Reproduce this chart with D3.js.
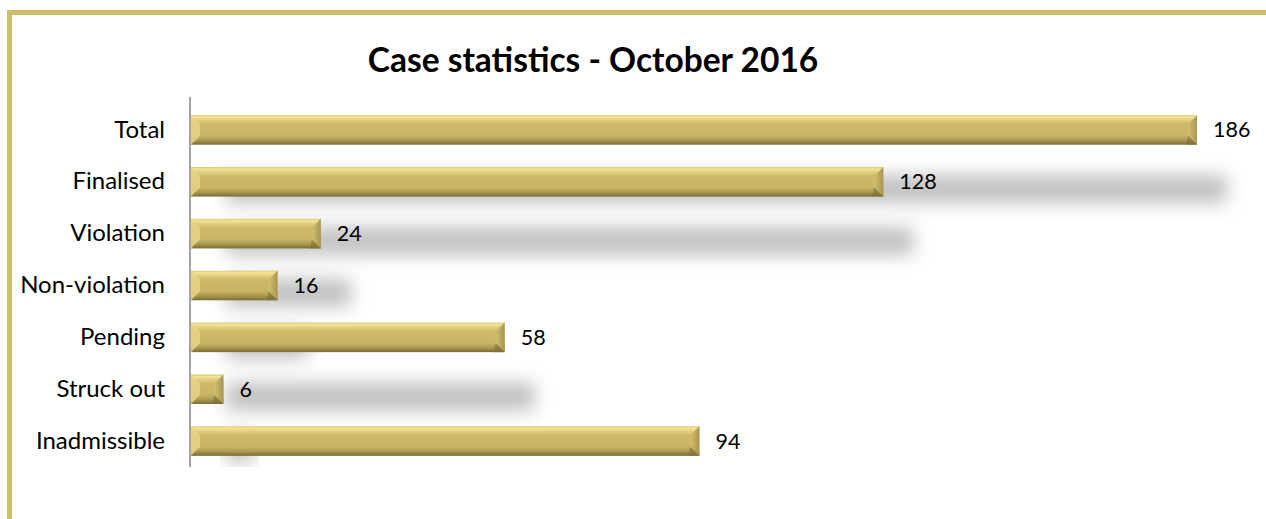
<!DOCTYPE html>
<html lang="en">
<head>
<meta charset="UTF-8">
<title>Case statistics - October 2016</title>
<style>
    body { margin: 0; background: #fff; }
    svg { display: block; font-family: Lato, "Open Sans", sans-serif; }
    .cat-label { font-size: 24px; fill: #000; }
    .val-label { font-size: 21.5px; fill: #000; }
    .title { font-size: 33.5px; font-weight: bold; fill: #000; }
</style>
</head>
<body>
<div id="chart"></div>
<script src="https://cdn.jsdelivr.net/npm/d3@7"></script>
<script>
    const categories = ["Total", "Finalised", "Violation", "Non-violation", "Pending", "Struck out", "Inadmissible"];
    const values = [186, 128, 24, 16, 58, 6, 94];
    const chartTitle = "Case statistics - October 2016";

    const W = 1266, H = 519;
    const plot = { left: 191, top: 104, bottom: 467 };

    const svg = d3.select("#chart").append("svg")
        .attr("width", W)
        .attr("height", H);

    const defs = svg.append("defs");

    // bar face gradient (vertical, gold bevel look)
    const g1 = defs.append("linearGradient")
        .attr("id", "gold").attr("x1", 0).attr("y1", 0).attr("x2", 0).attr("y2", 1);
    [[0, "#d9c87a"], [0.07, "#f3e496"], [0.16, "#e4d180"], [0.3, "#cdb96a"],
     [0.7, "#c8b465"], [0.84, "#ad9b52"], [1, "#7a6b35"]].forEach(s =>
        g1.append("stop").attr("offset", s[0]).attr("stop-color", s[1]));

    const gr = defs.append("linearGradient")
        .attr("id", "goldEnd").attr("x1", 0).attr("y1", 0).attr("x2", 1).attr("y2", 0);
    [[0, "#d2c070"], [1, "#a89550"]].forEach(s =>
        gr.append("stop").attr("offset", s[0]).attr("stop-color", s[1]));

    defs.append("filter").attr("id", "blur")
        .attr("x", "-20%").attr("y", "-200%").attr("width", "140%").attr("height", "500%")
      .append("feGaussianBlur").attr("stdDeviation", 9);

    defs.append("clipPath").attr("id", "plotClip")
      .append("rect")
        .attr("x", plot.left).attr("y", plot.top - 10)
        .attr("width", W - plot.left).attr("height", plot.bottom - plot.top + 10);

    // frame
    svg.append("rect")
        .attr("x", 9.5).attr("y", 12.5)
        .attr("width", W + 20).attr("height", H + 20)
        .attr("fill", "none")
        .attr("stroke", "#cfbc67")
        .attr("stroke-width", 5);

    svg.append("text")
        .attr("class", "title")
        .attr("x", 593).attr("y", 72)
        .attr("text-anchor", "middle")
        .text(chartTitle);

    const x = d3.scaleLinear().domain([0, 186]).range([plot.left, 1197]);
    const y = d3.scaleBand().domain(categories).range([plot.top, plot.bottom]).paddingInner(0.43).paddingOuter(0.215);

    // soft perspective shadows
    svg.append("g").attr("clip-path", "url(#plotClip)")
      .selectAll("rect")
      .data(values)
      .join("rect")
        .attr("x", plot.left + 35)
        .attr("y", (d, i) => y(categories[i]) + 60)
        .attr("width", d => Math.max(0, x(d) + 30 - plot.left - 35))
        .attr("height", 28)
        .attr("fill", "#acacac")
        .attr("opacity", 0.75)
        .attr("filter", "url(#blur)");

    const bars = svg.append("g").selectAll("g")
        .data(values)
        .join("g");

    const bw = y.bandwidth();
    const bev = 9;

    bars.append("rect")
        .attr("x", plot.left)
        .attr("y", (d, i) => y(categories[i]))
        .attr("width", d => x(d) - plot.left)
        .attr("height", bw)
        .attr("fill", "url(#gold)");

    // right end bevel
    bars.append("path")
        .attr("d", (d, i) => {
            const x1 = x(d), y0 = y(categories[i]), b = Math.min(bev, (x1 - plot.left) / 2);
            return `M${x1 - b},${y0 + b}L${x1},${y0}L${x1},${y0 + bw}L${x1 - b},${y0 + bw - b}Z`;
        })
        .attr("fill", "url(#goldEnd)");

    bars.append("path")
        .attr("d", (d, i) => {
            const x1 = x(d), y0 = y(categories[i]), b = Math.min(bev, (x1 - plot.left) / 2);
            return `M${x1 - b},${y0 + bw - b}L${x1},${y0 + bw}L${x1 - b - 2},${y0 + bw}Z`;
        })
        .attr("fill", "#7f7038").attr("opacity", 0.6);

    // left end bevel
    bars.append("path")
        .attr("d", (d, i) => {
            const y0 = y(categories[i]), b = Math.min(bev, (x(d) - plot.left) / 2);
            return `M${plot.left},${y0}L${plot.left + b},${y0 + b}L${plot.left + b},${y0 + bw - b}L${plot.left},${y0 + bw}Z`;
        })
        .attr("fill", "#e6d585").attr("opacity", 0.85);

    // value labels
    svg.append("g").selectAll("text")
        .data(values)
        .join("text")
        .attr("class", "val-label")
        .attr("x", d => x(d) + 16)
        .attr("y", (d, i) => y(categories[i]) + bw / 2)
        .attr("dy", "0.35em")
        .text(d => d);

    // category axis
    const axis = svg.append("g")
        .attr("transform", `translate(${plot.left - 1},0)`)
        .call(d3.axisLeft(y).tickSize(0).tickPadding(25))
        .attr("font-family", null)
        .attr("font-size", null);
    axis.select(".domain")
        .attr("d", `M0,${plot.top - 7}V${plot.bottom}`)
        .attr("stroke", "#868686").attr("stroke-width", 1.5);
    axis.selectAll("text")
        .attr("class", "cat-label");
</script>
</body>
</html>
